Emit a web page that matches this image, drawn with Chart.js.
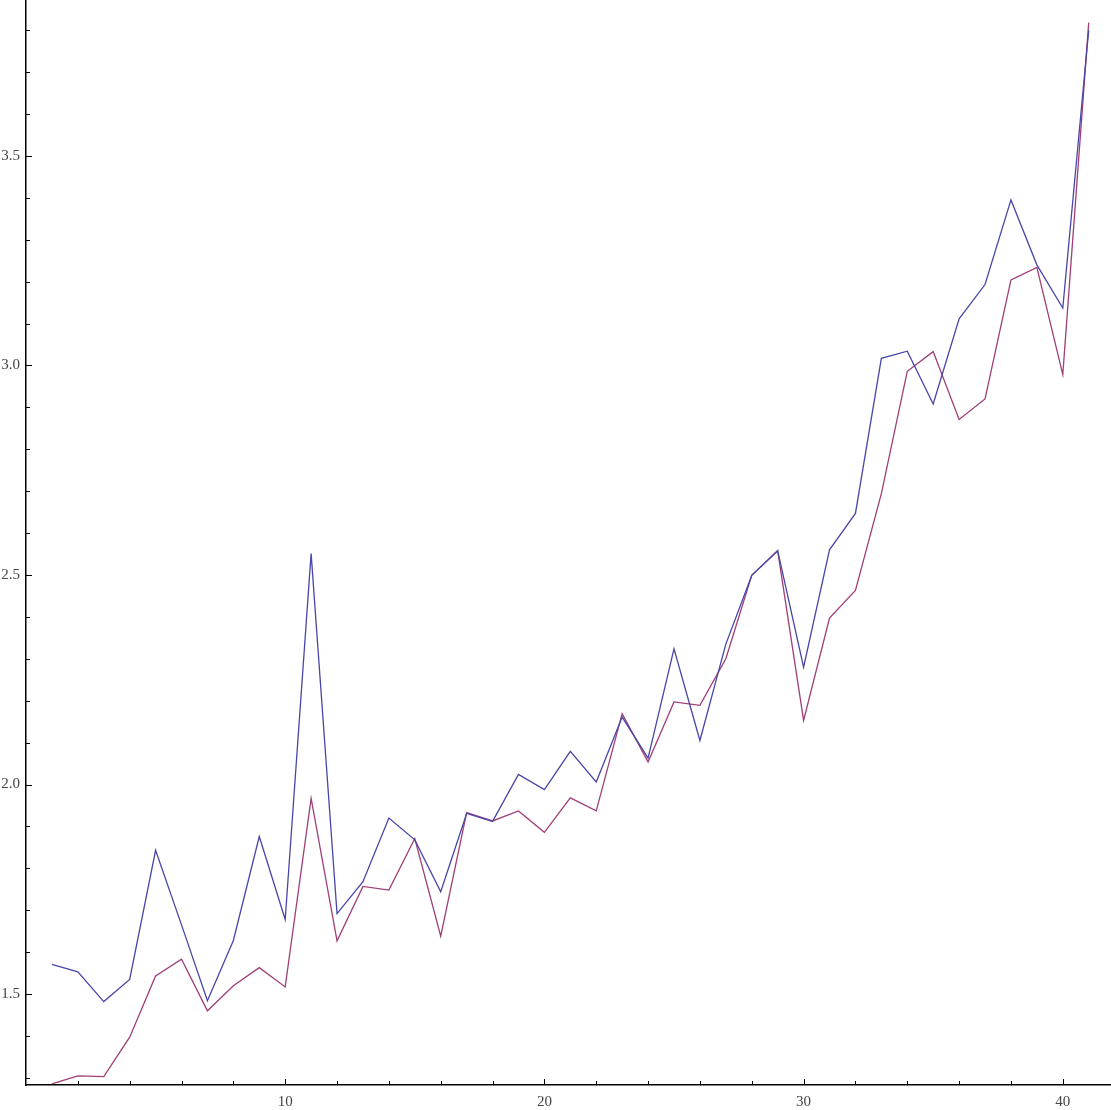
<!DOCTYPE html>
<html>
<head>
<meta charset="utf-8">
<script src="https://cdn.jsdelivr.net/npm/chart.js@4.4.1/dist/chart.umd.min.js"></script>
<style>
html,body{margin:0;padding:0;background:#fff;}
#wrap{width:1111px;height:1110px;position:relative;}
</style>
</head>
<body>
<div id="wrap"><canvas id="c" width="1111" height="1110"></canvas></div>
<script>
// x categories
const xValues = [1,2,3,4,5,6,7,8,9,10,11,12,13,14,15,16,17,18,19,20,21,22,23,24,25,26,27,28,29,30,31,32,33,34,35,36,37,38,39,40,41];
// first series (blue)
const seriesBlue = [1.571,1.553,1.482,1.535,1.843,1.665,1.484,1.628,1.876,1.678,2.551,1.692,1.768,1.920,1.868,1.744,1.931,1.912,2.024,1.988,2.079,2.006,2.161,2.063,2.324,2.105,2.335,2.499,2.558,2.280,2.560,2.647,3.017,3.034,2.908,3.111,3.193,3.395,3.240,3.137,3.800];
// second series (purple)
const seriesRed = [1.2855,1.305,1.303,1.397,1.543,1.583,1.460,1.520,1.563,1.517,1.967,1.627,1.757,1.748,1.871,1.638,1.933,1.913,1.937,1.886,1.968,1.937,2.169,2.054,2.197,2.189,2.300,2.499,2.558,2.153,2.397,2.463,2.694,2.986,3.033,2.871,2.920,3.204,3.234,2.978,3.818];
// tick labels
const xMajorTicks = [10,20,30,40];
const yMajorTicks = [1.5,2.0,2.5,3.0,3.5];

const toPts = arr => arr.map((v,i)=>({x:xValues[i], y:v}));

const tickPlugin = {
  id:'inwardTicks',
  afterDraw(chart){
    const ctx = chart.ctx, xs = chart.scales.x, ys = chart.scales.y, a = chart.chartArea;
    ctx.save();
    ctx.strokeStyle = '#000';
    ctx.lineWidth = 1;
    for (let v = 2; v <= 41; v += 2) {
      const px = Math.round(xs.getPixelForValue(v)) + 0.5;
      const len = (v % 10 === 0) ? 6 : 4;
      ctx.beginPath(); ctx.moveTo(px, a.bottom); ctx.lineTo(px, a.bottom - len); ctx.stroke();
    }
    for (let k = 13; k <= 38; k++) {
      const v = k / 10;
      const py = Math.round(ys.getPixelForValue(v)) + 0.5;
      const len = (k % 5 === 0) ? 6 : 4;
      ctx.beginPath(); ctx.moveTo(a.left, py); ctx.lineTo(a.left + len, py); ctx.stroke();
    }
    ctx.restore();
  }
};

new Chart(document.getElementById('c'), {
  type:'line',
  data:{
    datasets:[
      {data:toPts(seriesBlue), borderColor:'rgb(72,70,168)', borderWidth:1.3, pointRadius:0, tension:0, fill:false, clip:false},
      {data:toPts(seriesRed), borderColor:'rgb(160,62,118)', borderWidth:1.3, pointRadius:0, tension:0, fill:false, clip:false}
    ]
  },
  options:{
    responsive:false,
    animation:false,
    devicePixelRatio:1,
    layout:{padding:0},
    plugins:{legend:{display:false}, tooltip:{enabled:false}},
    scales:{
      x:{
        type:'linear', min:0, max:41.86,
        afterFit(s){ s.height = 25; s.paddingLeft = 0; s.paddingRight = 0; s.paddingTop = 0; s.paddingBottom = 0; },
        afterBuildTicks(s){ s.ticks = xMajorTicks.map(v=>({value:v})); },
        grid:{drawOnChartArea:false, drawTicks:false},
        border:{display:true, color:'#000', width:1.5},
        ticks:{padding:8, color:'#444', font:{family:'Liberation Serif', size:15}, callback:v=>String(v), maxRotation:0, autoSkip:false}
      },
      y:{
        type:'linear', min:1.283, max:3.872,
        afterFit(s){ s.width = 26; s.paddingLeft = 0; s.paddingRight = 0; s.paddingTop = 0; s.paddingBottom = 0; },
        afterBuildTicks(s){ s.ticks = yMajorTicks.map(v=>({value:v})); },
        grid:{drawOnChartArea:false, drawTicks:false},
        border:{display:true, color:'#000', width:1.5},
        ticks:{padding:6, color:'#444', font:{family:'Liberation Serif', size:15}, callback:v=>Number(v).toFixed(1), autoSkip:false}
      }
    }
  },
  plugins:[tickPlugin]
});
</script>
</body>
</html>
